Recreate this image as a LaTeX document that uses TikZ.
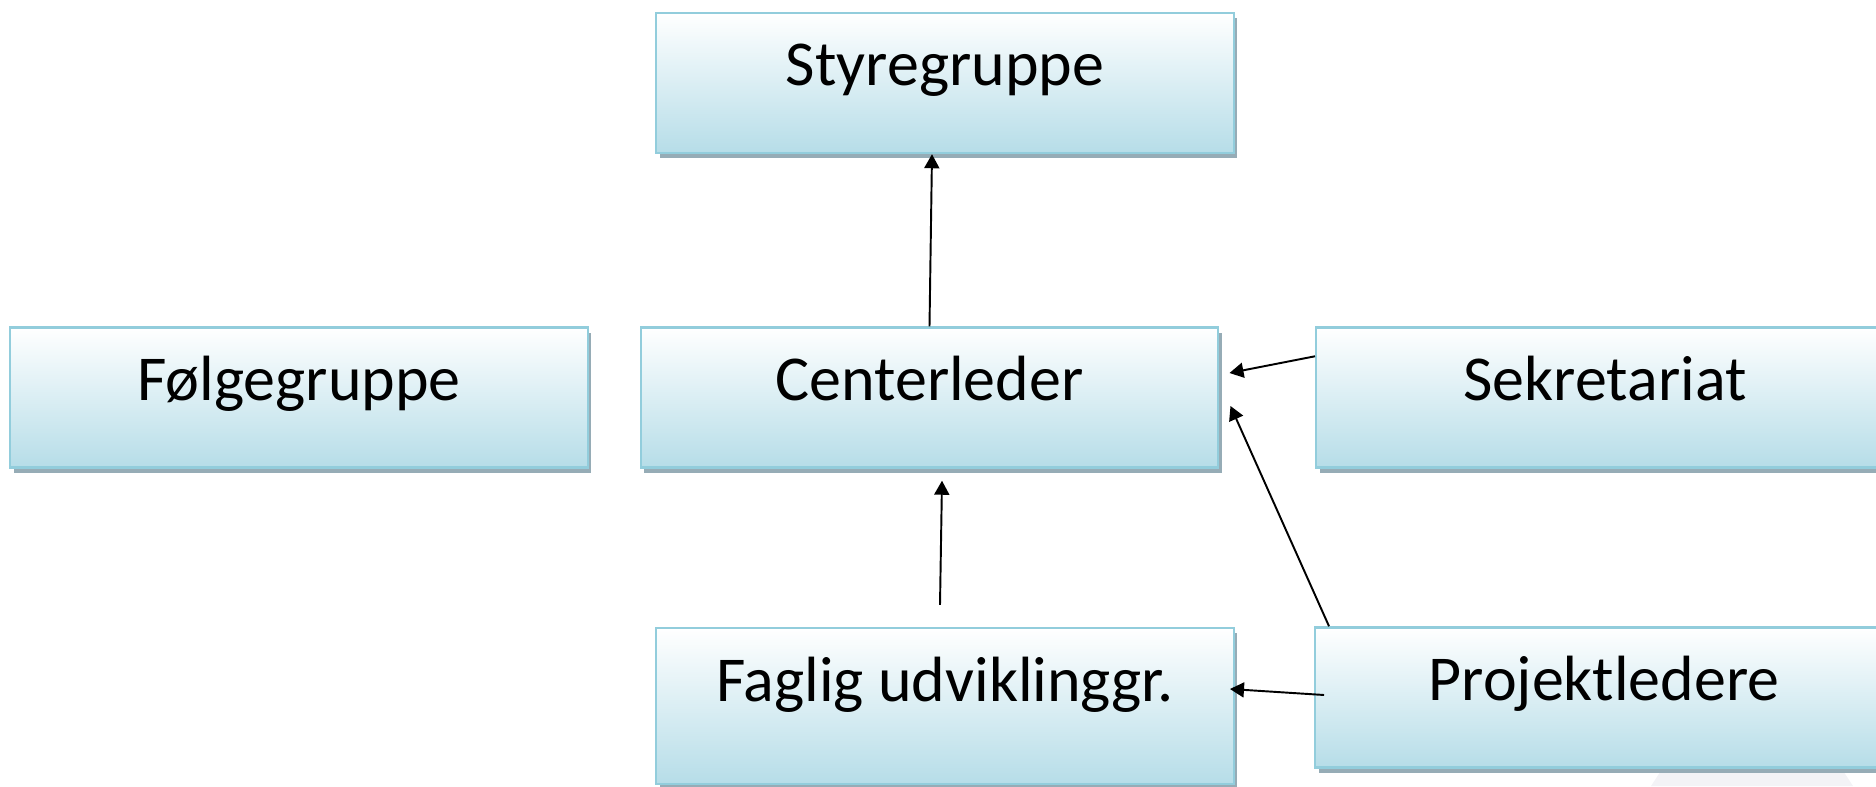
\documentclass[tikz,border=0pt]{standalone}
\usepackage{fontspec}
\setmainfont{Carlito}
\usepackage{tikz}
\usetikzlibrary{arrows.meta,shadows}

\definecolor{boxline}{RGB}{146,205,220}
\definecolor{boxfill}{RGB}{182,221,232}
\definecolor{boxshadow}{RGB}{150,172,182}
\definecolor{faint}{RGB}{243,243,246}

\begin{document}
\begin{tikzpicture}[
	unit/.style={rectangle, draw=boxline, line width=1.4pt, top color=white, bottom color=boxfill,
		minimum width=11.55cm, inner sep=0pt, text height=1.46cm, text depth=1.34cm,
		font=\fontsize{36.4pt}{44pt}\selectfont,
		drop shadow={shadow xshift=0.07cm, shadow yshift=-0.1cm, fill=boxshadow, opacity=1}},
	link/.style={-{Triangle[length=0.28cm, width=0.3cm]}, line width=1.1pt}]
			\useasboundingbox (0,0) rectangle (37.52,15.72);
			\fill[faint] (33.02,0) -- (33.36,0.52) -- (36.72,0.52) -- (37.06,0) -- cycle;

			\node[unit] (sg) at (18.9,14.06) {Styregruppe};
			\node[unit] (fg) at (5.98,7.77) {Følgegruppe};
			\node[unit] (cl) at (18.59,7.77) {Centerleder};
			\node[unit] (sk) at (32.1,7.77) {Sekretariat};
			\node[unit, text depth=1.66cm] (fu) at (18.9,1.6) {Faglig udviklinggr.};
			\node[unit] (pl) at (32.08,1.77) {Projektledere};

			\draw[link] (cl.north) -- ([xshift=-0.26cm]sg.south); % centerleder til styregruppe
			\draw[link] ([xshift=-0.1cm,yshift=0.44cm]fu.north) -- ([xshift=0.25cm,yshift=-0.24cm]cl.south); % faglig til centerleder
			\draw[link] ([yshift=-0.6cm]sk.north west) -- ([xshift=0.2cm,yshift=0.49cm]cl.east); % sekretariat til centerleder
			\draw[link] ([xshift=0.3cm]pl.north west) -- ([xshift=0.22cm,yshift=-0.17cm]cl.east); % projektledere til centerleder
			\draw[link] ([xshift=0.2cm,yshift=0.05cm]pl.west) -- ([xshift=-0.1cm,yshift=0.34cm]fu.east); % projektledere til faglig
		\end{tikzpicture}
\end{document}
